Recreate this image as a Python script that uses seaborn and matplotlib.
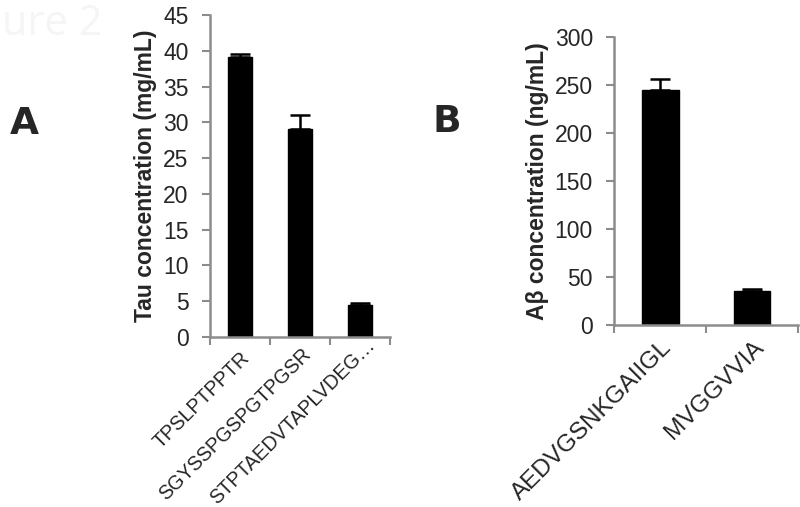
import matplotlib
matplotlib.use("Agg")
import matplotlib.pyplot as plt
import matplotlib.transforms as mtransforms
import seaborn as sns
import pandas as pd
import numpy as np

# Data
tau_peptides = ["TPSLPTPPTR", "SGYSSPGSPGTPGSR", "STPTAEDVTAPLVDEG\u2026"]
tau_values = [39.2, 29.0, 4.5]
tau_errors = [0.4, 2.0, 0.2]
tau_ticks = [0, 5, 10, 15, 20, 25, 30, 35, 40, 45]

ab_peptides = ["AEDVGSNKGAIIGL", "MVGGVVIA"]
ab_values = [245, 35]
ab_errors = [11, 2]
ab_ticks = [0, 50, 100, 150, 200, 250, 300]

sns.set_style("white")
plt.rcParams['font.family'] = ['Liberation Sans', 'DejaVu Sans']

fig = plt.figure(figsize=(8, 5.07), dpi=100)
axA = fig.add_axes([0.2625, 0.3353, 0.225, 0.6351])
axB = fig.add_axes([0.768, 0.359, 0.2295, 0.568])

gray = "#8c8c8c"

def panel(ax, cats, vals, errs, ticks, ylabel, xfs, shifts):
    df = pd.DataFrame({"cat": cats, "val": vals})
    sns.barplot(data=df, x="cat", y="val", color="black", width=0.4,
                errorbar=None, ax=ax, saturation=1, edgecolor="black")
    x = np.arange(len(cats))
    ax.errorbar(x, vals, yerr=[np.zeros(len(errs)), errs], fmt="none",
                ecolor="black", elinewidth=1.8, capsize=7, capthick=1.8)
    ax.set_xlim(-0.5, len(cats) - 0.5)
    ax.set_ylim(ticks[0], ticks[-1])
    ax.set_yticks(ticks)
    ax.set_yticklabels([str(t) for t in ticks], fontsize=16.5)
    ax.set_xticks(x)
    ax.set_xticklabels(cats, rotation=45, ha="right", va="top",
                       rotation_mode="anchor", fontsize=xfs)
    ax.set_xticks(np.arange(-0.5, len(cats)), minor=True)
    ax.tick_params(axis="x", which="major", length=0, pad=8)
    ax.tick_params(axis="x", which="minor", length=6, width=1.5, color=gray,
                   direction="out", bottom=True)
    ax.tick_params(axis="y", length=6, width=1.5, color=gray, direction="out",
                   left=True, pad=9.5)
    for lab, (dx, dy) in zip(ax.get_xticklabels(), shifts):
        off = mtransforms.ScaledTranslation(dx / 100, -dy / 100,
                                            fig.dpi_scale_trans)
        lab.set_transform(lab.get_transform() + off)
    for s in ["top", "right"]:
        ax.spines[s].set_visible(False)
    for s in ["left", "bottom"]:
        ax.spines[s].set_color(gray)
        ax.spines[s].set_linewidth(1.8)
    ax.set_xlabel("")
    ax.set_ylabel(ylabel, fontsize=16.5, fontweight="bold", labelpad=4)
    ax.set_facecolor("white")

panel(axA, tau_peptides, tau_values, tau_errors, tau_ticks,
      "Tau concentration (mg/mL)", 14.2, [(0, 0), (1, -3), (5, -12)])
panel(axB, ab_peptides, ab_values, ab_errors, ab_ticks,
      "A\u03b2 concentration (ng/mL)", 17.5, [(0, 0), (0, 0)])

fig.text(0.0125, 0.735, "A", fontsize=27, fontweight="bold",
         family=["DejaVu Sans"])
fig.text(0.54, 0.74, "B", fontsize=27, fontweight="bold",
         family=["DejaVu Sans"])
fig.text(0.002, 0.93, "ure 2", fontsize=30, color="#f5f5f5",
         family=["Open Sans", "DejaVu Sans"])

fig.savefig("out.png", dpi=100, facecolor="white")
